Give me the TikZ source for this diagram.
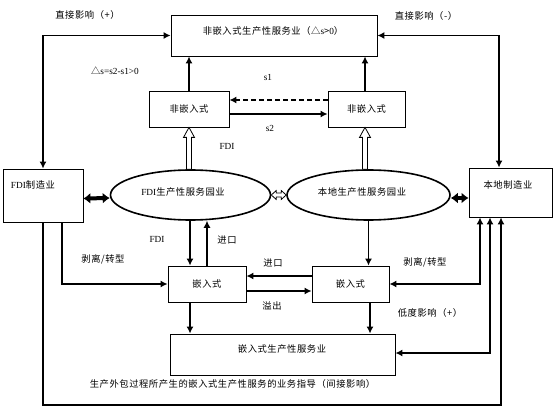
\documentclass[tikz,border=0pt]{standalone}
\usepackage{fontspec}
\setmainfont{Liberation Serif}
\newfontfamily\cjk[LetterSpace=6]{Noto Sans CJK SC}
\usetikzlibrary{arrows.meta,calc,shapes.geometric}
\newcommand\zh[1]{{\cjk #1}}
\begin{document}
\begin{tikzpicture}[x=1pt,y=-1pt,
  box/.style={draw, line width=0.8pt, inner sep=0pt},
  oval/.style={draw, ellipse, line width=1.6pt, inner sep=0pt},
  txt/.style={font=\fontsize{9.3}{10}\selectfont, inner sep=0pt},
  thk/.style={line width=1.6pt},
  thn/.style={line width=1.1pt},
  tipe/.style={-{Latex[length=7pt,width=7pt]}},
  tipb/.style={{Latex[length=7pt,width=7pt]}-{Latex[length=7pt,width=7pt]}},
  fat/.style={line width=4pt,{Latex[length=7pt,width=11pt]}-{Latex[length=7pt,width=11pt]}},
  hollow/.style={line width=0.8pt, fill=white},
  dsh/.style={line width=1.6pt, dash pattern=on 5pt off 3pt}]
\useasboundingbox (0,0) rectangle (554,414);

% boxes
\node[box, minimum width=206pt, minimum height=41pt] (top) at (274,35.5) {};
\node[txt] (toptxt) at (273,31) {\zh{非嵌入式生产性服务业（△}s\zh{>}0\zh{）}};
\node[box, txt, minimum width=80pt, minimum height=36pt] (nl) at (189,109) {\zh{非嵌入式}};
\node[box, txt, minimum width=77pt, minimum height=36pt] (nr) at (366.5,109) {\zh{非嵌入式}};
\node[box, minimum width=80pt, minimum height=53pt] (fm) at (43,195.5) {};
\node[txt] (fmtxt) at (33,185) {FDI\zh{制造业}};
\node[box, minimum width=83pt, minimum height=49pt] (lm) at (510.5,192.5) {};
\node[txt] (lmtxt) at (508,185) {\zh{本地制造业}};
\node[oval, minimum width=160pt, minimum height=50pt] (fe) at (190.5,195) {};
\node[txt] (fetxt) at (183,192) {FDI\zh{生产性服务园业}};
\node[oval, minimum width=163pt, minimum height=50pt] (le) at (368.5,195) {};
\node[txt] (letxt) at (362,192) {\zh{本地生产性服务园业}};
\node[box, txt, minimum width=78pt, minimum height=36pt] (el) at (207,284) {\zh{嵌入式}};
\node[box, txt, minimum width=77pt, minimum height=36pt] (er) at (350.5,284) {\zh{嵌入式}};
\node[box, minimum width=225pt, minimum height=41pt] (bb) at (282.5,354.5) {};
\node[txt] (bbtxt) at (282,349) {\zh{嵌入式生产性服务业}};

% labels
\node[txt] (l1) at (87.5,15) {\zh{直接影响（+）}};
\node[txt] (l2) at (426,16) {\zh{直接影响（-）}};
\node[txt] (l3) at (115,71) {\zh{△}s=s2-s1>0};
\node[txt] (l4) at (268,77) {s1};
\node[txt] (l5) at (270,128) {s2};
\node[txt] (l6) at (227,146) {FDI};
\node[txt] (l7) at (157,239) {FDI};
\node[txt] (l8) at (227,240) {\zh{进口}};
\node[txt] (l9) at (103,259) {\zh{剥离/转型}};
\node[txt] (l10) at (273,263) {\zh{进口}};
\node[txt] (l11) at (272,306) {\zh{溢出}};
\node[txt] (l12) at (425,262) {\zh{剥离/转型}};
\node[txt] (l13) at (430,313) {\zh{低度影响（+）}};
\node[txt] (l14) at (232.5,384) {\zh{生产外包过程所产生的嵌入式生产性服务的业务指导（间接影响）}};

% top connectors
\draw[thk, tipb] (fm.north) |- (top.west);
\draw[thk, tipb] (top.east) -| ([xshift=-11.5pt]lm.north);
\draw[thk, tipe] (nl.north) -- (nl.north |- top.south);
\draw[thk, tipe] ([xshift=-1.5pt]nr.north) -- ([xshift=-1.5pt]nr.north |- top.south);
\draw[dsh, tipe] ([yshift=9pt]nr.west) -- ([yshift=9pt]nl.east);
\draw[thk, tipe] ([yshift=-5pt]nl.east) -- ([yshift=-5pt]nr.west);

% hollow arrows up
\coordinate (ha) at (nl.south |- fe.north);
\draw[hollow] ($(ha)+(-2.5,0)$) -- ($(nl.south)+(-2.5,10)$) -- ($(nl.south)+(-5.5,10)$) -- (nl.south)
  -- ($(nl.south)+(5.5,10)$) -- ($(nl.south)+(2.5,10)$) -- ($(ha)+(2.5,0)$) -- cycle;
\coordinate (hb) at ([xshift=-1.5pt]nr.south);
\coordinate (hc) at (hb |- le.north);
\draw[hollow] ($(hc)+(-2.5,0)$) -- ($(hb)+(-2.5,10)$) -- ($(hb)+(-5.5,10)$) -- (hb)
  -- ($(hb)+(5.5,10)$) -- ($(hb)+(2.5,10)$) -- ($(hc)+(2.5,0)$) -- cycle;

% between ellipses
\draw[hollow] (fe.east) -- ($(fe.east)+(5,-4.5)$) -- ($(fe.east)+(5,-2)$) -- ($(le.west)+(-5,-2)$)
  -- ($(le.west)+(-5,-4.5)$) -- (le.west) -- ($(le.west)+(-5,4.5)$) -- ($(le.west)+(-5,2)$)
  -- ($(fe.east)+(5,2)$) -- ($(fe.east)+(5,4.5)$) -- cycle;

% fat double arrows
\draw[fat] ([yshift=-3pt]fm.east) -- ([yshift=-3pt]fe.west);
\draw[fat] ([yshift=-3pt]le.east) -- ([yshift=-3pt]lm.west |- le.east);

% middle
\draw[thk, tipe] ([xshift=-0.5pt]fe.south) -- ([xshift=-0.5pt]fe.south |- el.north);
\draw[thn, tipe] (el.north) -- (el.north |- fe.south);
\draw[thk, tipe] (le.south) -- (le.south |- er.north);
\draw[thk, tipe] ([yshift=8pt]er.west) -- ([yshift=8pt]el.east);
\draw[thk, tipe] ([yshift=-7pt]el.east) -- ([yshift=-7pt]er.west);

% left side
\draw[thk, tipe] ([xshift=19pt]fm.south) |- (el.west);
\coordinate (cb) at (501,405);
\draw[thk, tipe] (fm.south) |- (cb) -- (cb |- lm.south);

% right side
\draw[thk, tipb] (er.east) -| ([xshift=-30.5pt]lm.south);
\draw[thk, tipb] ([yshift=1.5pt]bb.east) -| ([xshift=-20.5pt]lm.south);

% down to bottom box
\draw[thk, tipe] ([xshift=-17pt]el.south) -- ([xshift=-17pt]el.south |- bb.north);
\draw[thk, tipe] ([xshift=19.5pt]er.south) -- ([xshift=19.5pt]er.south |- bb.north);
\end{tikzpicture}
\end{document}
